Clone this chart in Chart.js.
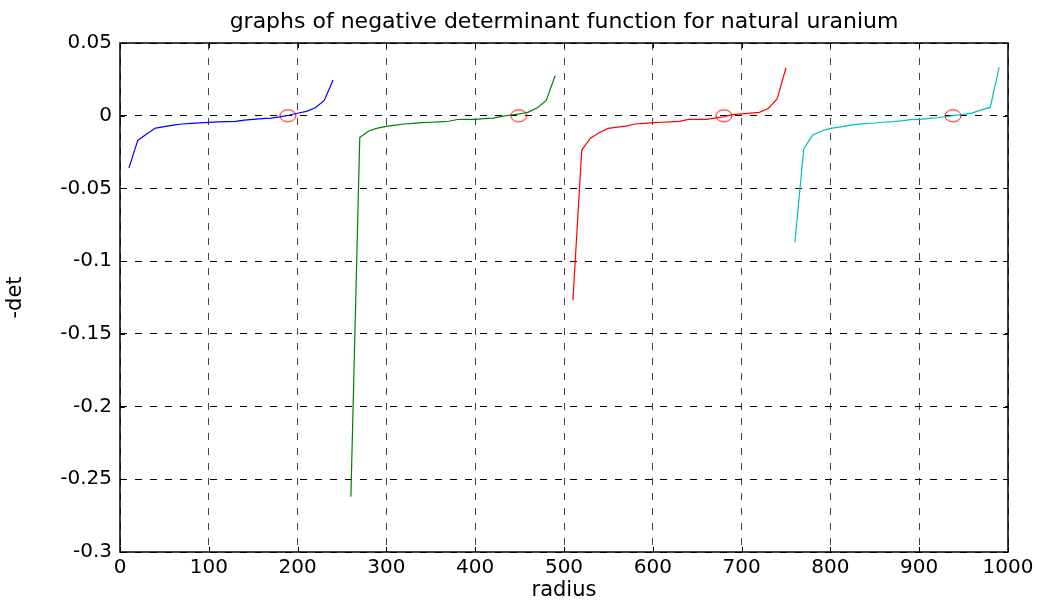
<!DOCTYPE html>
<html>
<head>
<meta charset="utf-8">
<script src="https://cdn.jsdelivr.net/npm/chart.js@4/dist/chart.umd.min.js"></script>
<style>
  html, body { margin: 0; padding: 0; background: #fff; }
  #wrap { width: 1038px; height: 601px; position: relative; }
</style>
</head>
<body>
<div id="wrap"><canvas id="c"></canvas></div>
<script>
// ---- data ----
const blueX  = [10,20,30,40,50,60,70,80,90,100,110,120,130,140,150,160,170,180,190,200,210,220,230,240];
const blueY  = [-0.036,-0.017,-0.0125,-0.0085,-0.0075,-0.0065,-0.0057,-0.0053,-0.0049,-0.0046,-0.0043,-0.0041,-0.0039,-0.003,-0.0025,-0.002,-0.0016,-0.0008,0.0003,0.0017,0.003,0.0055,0.0105,0.0245];

const greenX = [260,270,280,290,300,310,320,330,340,350,360,370,380,390,400,410,420,430,440,450,460,470,480,490];
const greenY = [-0.262,-0.015,-0.0105,-0.0085,-0.0073,-0.0065,-0.0057,-0.0053,-0.0048,-0.0045,-0.0042,-0.0038,-0.0026,-0.0025,-0.0025,-0.002,-0.0016,-0.0005,0.0005,0.0012,0.0025,0.0055,0.0105,0.0275];

const redX   = [510,520,530,540,550,560,570,580,590,600,610,620,630,640,650,660,670,680,690,700,710,720,730,740,750];
const redY   = [-0.127,-0.0236,-0.0153,-0.0115,-0.0087,-0.0078,-0.0071,-0.0057,-0.0053,-0.0048,-0.0045,-0.0042,-0.0039,-0.0025,-0.0025,-0.0025,-0.0016,-0.0007,0.0007,0.0012,0.0018,0.0023,0.005,0.0115,0.033];

const cyanX  = [760,770,780,790,800,810,820,830,840,850,860,870,880,890,900,910,920,930,940,950,960,970,980,990];
const cyanY  = [-0.087,-0.0229,-0.0133,-0.0105,-0.0087,-0.0078,-0.0068,-0.006,-0.0055,-0.005,-0.0045,-0.0041,-0.0035,-0.0027,-0.0025,-0.002,-0.0014,-0.0007,0.0002,0.0009,0.002,0.004,0.0057,0.0332];

const rootX  = [189,449,680,938];
const rootY  = [0,0,0,0];

const xTicks = [0,100,200,300,400,500,600,700,800,900,1000];
const xTickLabels = ['0','100','200','300','400','500','600','700','800','900','1000'];
const yTicks = [0.05,0,-0.05,-0.1,-0.15,-0.2,-0.25,-0.3];
const yTickLabels = ['0.05','0','-0.05','-0.1','-0.15','-0.2','-0.25','-0.3'];

const titleText = 'graphs of negative determinant function for natural uranium';
const xTitle = 'radius';
const yTitle = '-det';

// ---- helpers ----
const pts = (xs, ys) => xs.map((x, i) => ({x: x, y: ys[i]}));

// ellipse marker image
const ell = document.createElement('canvas');
ell.width = 20; ell.height = 16;
(function(){
  const g = ell.getContext('2d');
  g.strokeStyle = '#ff0000';
  g.lineWidth = 1;
  g.beginPath();
  g.ellipse(10, 8, 8, 6, 0, 0, Math.PI * 2);
  g.stroke();
})();

const FONT = "'DejaVu Sans', sans-serif";
const DASH = [7, 8];

const boxPlugin = {
  id: 'box',
  afterDraw(chart) {
    const a = chart.chartArea, ctx = chart.ctx;
    ctx.save();
    ctx.strokeStyle = '#000';
    ctx.lineWidth = 1.5;
    ctx.strokeRect(a.left, a.top, a.right - a.left, a.bottom - a.top);
    ctx.lineWidth = 1;
    const xs = chart.scales.x, ys = chart.scales.y;
    xTicks.forEach(v => {
      const px = Math.round(xs.getPixelForValue(v)) + 0.5;
      ctx.beginPath();
      ctx.moveTo(px, a.bottom); ctx.lineTo(px, a.bottom - 5);
      ctx.moveTo(px, a.top); ctx.lineTo(px, a.top + 5);
      ctx.stroke();
    });
    yTicks.forEach(v => {
      const py = Math.round(ys.getPixelForValue(v)) + 0.5;
      ctx.beginPath();
      ctx.moveTo(a.left, py); ctx.lineTo(a.left + 5, py);
      ctx.moveTo(a.right, py); ctx.lineTo(a.right - 5, py);
      ctx.stroke();
    });
    ctx.restore();
  }
};

const lineDs = (xs, ys, color) => ({
  type: 'line',
  data: pts(xs, ys),
  borderColor: color,
  backgroundColor: color,
  borderWidth: 1.2,
  pointRadius: 0,
  tension: 0,
  fill: false
});

new Chart(document.getElementById('c'), {
  type: 'line',
  data: {
    datasets: [
      lineDs(blueX, blueY, '#0000ff'),
      lineDs(greenX, greenY, '#008000'),
      lineDs(redX, redY, '#ff0000'),
      lineDs(cyanX, cyanY, '#00bfbf'),
      {
        type: 'scatter',
        data: pts(rootX, rootY),
        pointStyle: ell,
        pointRadius: 8,
        showLine: false,
        borderColor: '#ff0000',
        backgroundColor: 'rgba(0,0,0,0)'
      }
    ]
  },
  options: {
    responsive: true,
    maintainAspectRatio: false,
    animation: false,
    layout: { padding: { left: 0, right: 30, top: 0, bottom: 0 } },
    plugins: {
      legend: { display: false },
      tooltip: { enabled: false },
      title: {
        display: true,
        text: titleText,
        fullSize: false,
        color: '#000',
        font: { family: FONT, size: 22, weight: 'normal', lineHeight: 1.2 },
        padding: { top: 9, bottom: 7.6 }
      }
    },
    scales: {
      x: {
        type: 'linear',
        min: 0, max: 1000,
        afterFit(s) { s.height = 49; },
        afterBuildTicks(s) { s.ticks = xTicks.map(v => ({value: v})); },
        ticks: {
          color: '#000',
          font: { family: FONT, size: 20 },
          padding: 4,
          maxRotation: 0,
          autoSkip: false,
          callback: (v) => xTickLabels[xTicks.indexOf(v)]
        },
        grid: {
          color: '#444',
          lineWidth: 1,
          drawTicks: false
        },
        border: { display: false, dash: DASH },
        title: {
          display: true,
          text: xTitle,
          color: '#000',
          font: { family: FONT, size: 21, lineHeight: 1 },
          padding: { top: 0, bottom: 0 }
        }
      },
      y: {
        type: 'linear',
        min: -0.3, max: 0.05,
        afterFit(s) { s.width = 120; },
        afterBuildTicks(s) { s.ticks = yTicks.slice().reverse().map(v => ({value: v})); },
        ticks: {
          color: '#000',
          font: { family: FONT, size: 20 },
          padding: 8,
          autoSkip: false,
          callback: (v) => {
            const i = yTicks.findIndex(t => Math.abs(t - v) < 1e-9);
            return yTickLabels[i];
          }
        },
        grid: {
          color: '#000',
          lineWidth: 1,
          drawTicks: false
        },
        border: { display: false, dash: DASH },
        title: {
          display: true,
          text: yTitle,
          color: '#000',
          font: { family: FONT, size: 21, lineHeight: 1.2 },
          padding: { top: 3, bottom: 0 }
        }
      }
    }
  },
  plugins: [boxPlugin]
});
</script>
</body>
</html>
